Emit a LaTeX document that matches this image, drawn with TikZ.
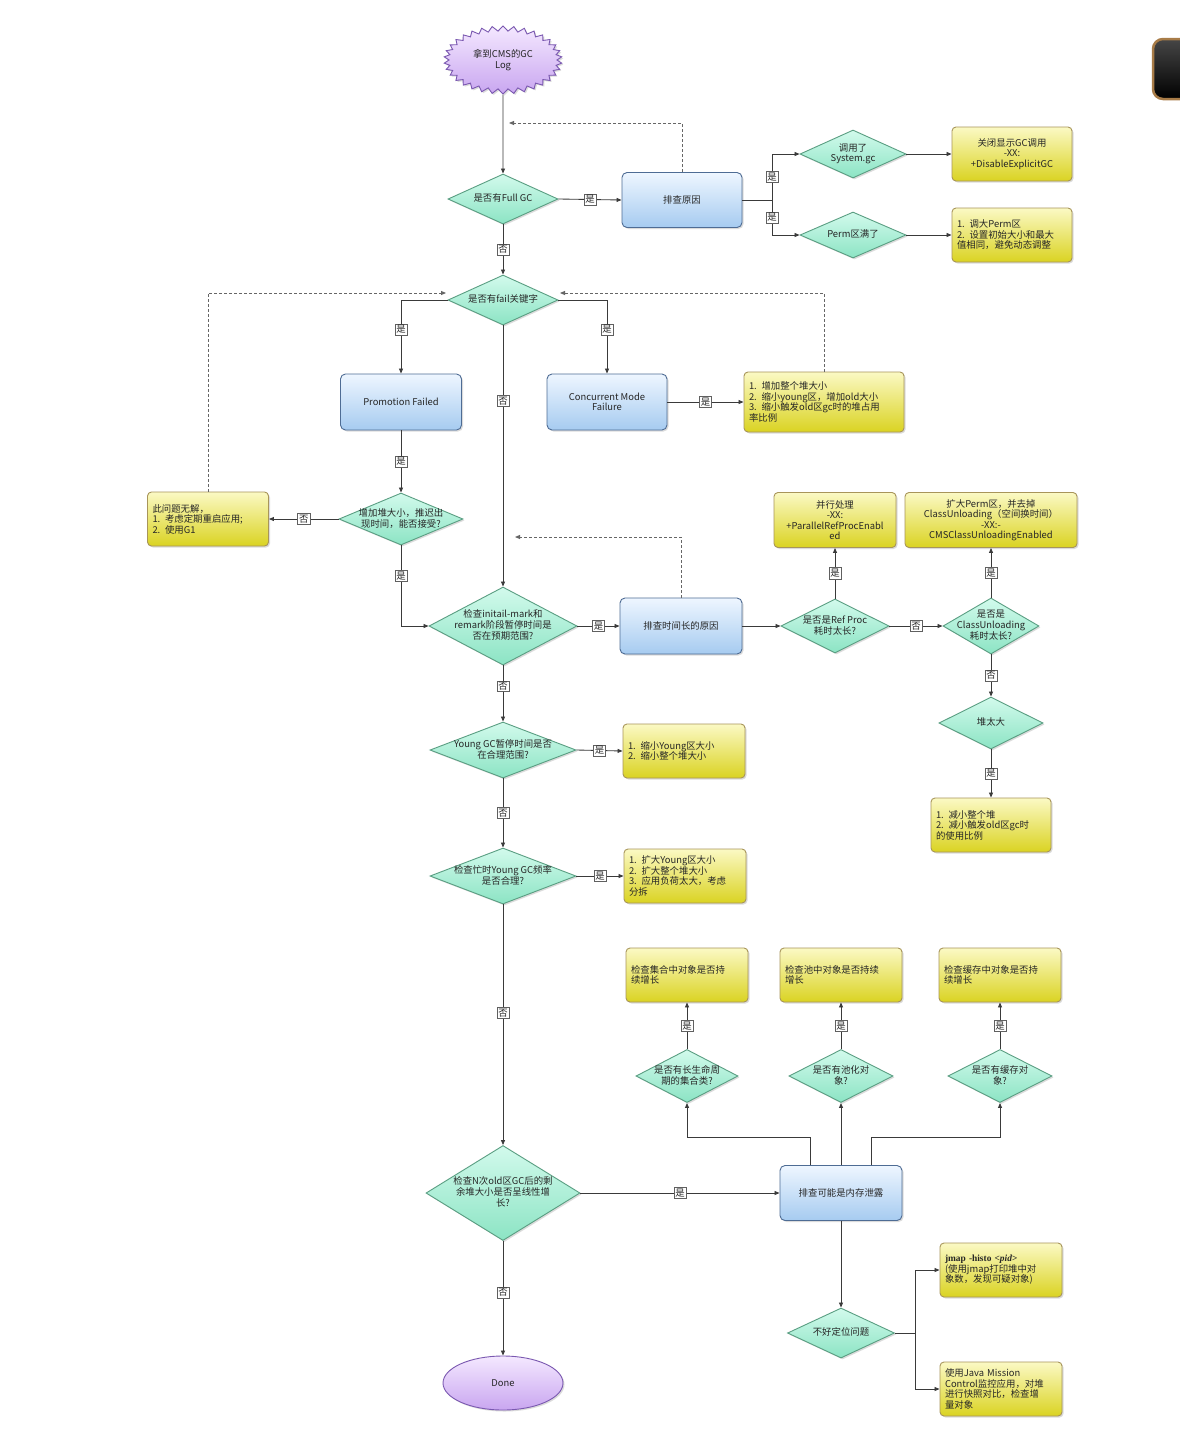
\documentclass[tikz,border=0pt]{standalone}
\usepackage{fontspec}
\setmainfont{Noto Sans CJK SC}
\newfontfamily\serifb{Liberation Serif}
\usetikzlibrary{arrows.meta,shapes.geometric,shapes.symbols,shadows,calc}
\definecolor{gtop}{HTML}{D2FAEC}
\definecolor{gbot}{HTML}{8CE4C4}
\definecolor{gborder}{HTML}{5A9E82}
\definecolor{btop}{HTML}{EEF6FF}
\definecolor{bbot}{HTML}{A6CBF0}
\definecolor{bborder}{HTML}{4E6C94}
\definecolor{ytop}{HTML}{FBF9C4}
\definecolor{ybot}{HTML}{DAD322}
\definecolor{yborder}{HTML}{A8955A}
\definecolor{ptop}{HTML}{F4E8FF}
\definecolor{pbot}{HTML}{C9A6F0}
\definecolor{pborder}{HTML}{7A58B0}
\definecolor{lcol}{HTML}{3A3A3A}
\definecolor{brownrim}{HTML}{A87C48}
\newcommand\fs{\fontsize{9.4}{10.5}\selectfont}
\newcommand\dt[1]{\raisebox{-5.3pt}{\smash{\makebox[0pt]{\begin{tabular}{@{}c@{}}#1\end{tabular}}}}}
\begin{document}
\begin{tikzpicture}[x=1pt,y=-1pt,
  every node/.style={font=\fs, text=black!85},
  shad/.style={drop shadow={shadow xshift=1.5pt,shadow yshift=-1.5pt,opacity=0.28}},
  dia/.style={diamond, draw=gborder, line width=0.9pt, top color=gtop, bottom color=gbot, inner sep=0pt, shad},
  bbox/.style={rectangle, rounded corners=5pt, draw=bborder, line width=0.9pt, top color=btop, bottom color=bbot, align=center, shad},
  ybox/.style={rectangle, rounded corners=4pt, draw=yborder, line width=0.9pt, top color=ytop, bottom color=ybot, shad, inner xsep=5pt},
  ylbox/.style={ybox, align=left, text width=110pt, minimum height=54pt},
  lbl/.style={draw=gray!75!black, fill=white, inner sep=1.4pt, line width=0.5pt, font=\fs},
  conn/.style={draw=lcol, line width=0.85pt},
  arr/.style={conn, -{Triangle[length=5pt,width=4pt]}},
  dashedarr/.style={arr, draw=gray!80!black, dashed, dash pattern=on 3pt off 2pt}]
\clip (0,0) rectangle (1180,1435);
\fill[white] (0,0) rectangle (1180,1435);
% top-right decoration
\draw[line width=2.5pt, draw=brownrim, top color=gray!55!black, bottom color=black, rounded corners=10pt] (1153,39) rectangle (1225,99);

% nodes
\node[starburst, starburst points=34, starburst point height=5pt, random starburst=0, draw=pborder, line width=0.9pt, top color=ptop, bottom color=pbot, minimum width=118pt, minimum height=68pt, align=center, inner sep=0pt, shad] (start) at (503,60) {拿到CMS的GC\\Log};
\node[dia, minimum width=110pt, minimum height=50pt] (d1) at (503,199) {\dt{是否有Full GC}};
\node[bbox, minimum width=120pt, minimum height=55pt] (box1) at (682,200) {排查原因};
\node[dia, minimum width=106pt, minimum height=48pt] (dsys) at (853,154) {\dt{调用了\\System.gc}};
\node[dia, minimum width=106pt, minimum height=46pt] (dperm) at (853,235) {\dt{Perm区满了}};
\node[ybox, minimum width=120pt, minimum height=54pt, align=center] (ysys) at (1012,154) {关闭显示GC调用\\-XX:\\+DisableExplicitGC};
\node[ylbox] (yperm) at (1012,235) {1. 调大Perm区\\2. 设置初始大小和最大\\值相同，避免动态调整};
\node[dia, minimum width=110pt, minimum height=50pt] (d2) at (503,300) {\dt{是否有fail关键字}};
\node[bbox, minimum width=121pt, minimum height=56pt] (pf) at (401,402) {Promotion Failed};
\node[bbox, minimum width=120pt, minimum height=56pt] (cmf) at (607,402) {Concurrent Mode\\Failure};
\node[ylbox, text width=150pt, minimum height=60pt] (ycmf) at (824,402) {1. 增加整个堆大小\\2. 缩小young区，增加old大小\\3. 缩小触发old区gc时的堆占用\\率比例};
\node[dia, minimum width=124pt, minimum height=52pt] (dinc) at (401,519) {\dt{增加堆大小，推迟出\\现时间，能否接受?}};
\node[ylbox, text width=111pt] (ynone) at (208,519) {此问题无解，\\1. 考虑定期重启应用;\\2. 使用G1};
\node[dia, minimum width=148pt, minimum height=78pt] (dremark) at (503,626) {\dt{检查initail-mark和\\remark阶段暂停时间是\\否在预期范围?}};
\node[bbox, minimum width=122pt, minimum height=56pt] (box2) at (681,626) {排查时间长的原因};
\node[dia, minimum width=108pt, minimum height=54pt] (dref) at (835,626) {\dt{是否是Ref Proc\\耗时太长?}};
\node[ybox, minimum width=122pt, minimum height=55pt, align=center] (yref) at (835,520) {并行处理\\-XX:\\+ParallelRefProcEnabl\\ed};
\node[dia, minimum width=96pt, minimum height=56pt] (dcu) at (991,626) {\dt{是否是\\ClassUnloading\\耗时太长?}};
\node[ybox, minimum width=172pt, minimum height=55pt, align=center] (ycu) at (991,520) {扩大Perm区，并去掉\\ClassUnloading（空间换时间）\\-XX:-\\CMSClassUnloadingEnabled};
\node[dia, minimum width=104pt, minimum height=52pt] (dheap) at (991,723) {\dt{堆太大}};
\node[ylbox] (yheap) at (991,825) {1. 减小整个堆\\2. 减小触发old区gc时\\的使用比例};
\node[dia, minimum width=146pt, minimum height=56pt] (dyoung) at (503,750) {\dt{Young GC暂停时间是否\\在合理范围?}};
\node[ylbox, text width=112pt] (yyoung) at (684,751) {1. 缩小Young区大小\\2. 缩小整个堆大小};
\node[dia, minimum width=146pt, minimum height=56pt] (dfreq) at (503,876) {\dt{检查忙时Young GC频率\\是否合理?}};
\node[ylbox, text width=112pt] (yfreq) at (685,876) {1. 扩大Young区大小\\2. 扩大整个堆大小\\3. 应用负荷太大，考虑\\分拆};
\node[dia, minimum width=154pt, minimum height=95pt] (dold) at (503,1193) {\dt{检查N次old区GC后的剩\\余堆大小是否呈线性增\\长?}};
\node[ellipse, draw=pborder, line width=0.9pt, top color=ptop, bottom color=pbot, minimum width=120pt, minimum height=54pt, shad] (done) at (503,1383) {Done};
\node[bbox, minimum width=122pt, minimum height=55pt] (leak) at (841,1193) {排查可能是内存泄露};
\node[dia, minimum width=102pt, minimum height=53pt] (dcoll) at (687,1076) {\dt{是否有长生命周\\期的集合类?}};
\node[dia, minimum width=104pt, minimum height=53pt] (dpool) at (841,1076) {\dt{是否有池化对\\象?}};
\node[dia, minimum width=104pt, minimum height=53pt] (dcache) at (1000,1076) {\dt{是否有缓存对\\象?}};
\node[ylbox, text width=112pt] (ycoll) at (687,975) {检查集合中对象是否持\\续增长};
\node[ylbox, text width=112pt] (ypool) at (841,975) {检查池中对象是否持续\\增长};
\node[ylbox, text width=112pt] (ycache) at (1000,975) {检查缓存中对象是否持\\续增长};
\node[dia, minimum width=107pt, minimum height=50pt] (dhard) at (841,1333) {\dt{不好定位问题}};
\node[ylbox, text width=112pt] (yjmap) at (1001,1270) {{\serifb\bfseries jmap -histo \textit{<pid>}}\\(使用jmap打印堆中对\\象数，发现可疑对象)};
\node[ylbox, text width=112pt] (yjmc) at (1001,1389) {使用Java Mission\\Control监控应用，对堆\\进行快照对比，检查增\\量对象};

% helper coordinates
\coordinate (j1) at (509,123);
\coordinate (b1r) at (772,200);
\coordinate (j2) at (560,293);
\coordinate (j3) at (446,293);
\coordinate (j4) at (515,537);
\coordinate (hr) at (915,1333);

% connectors
\draw[arr] (start.south) -- (d1.north);
\draw[dashedarr] (box1.north) |- (j1);
\draw[arr] (d1.east) -- node[lbl]{是} (box1.west);
\draw[conn] (box1.east) -- (b1r);
\draw[arr] (b1r) |- node[lbl,pos=0.25]{是} (dsys.west);
\draw[arr] (b1r) |- node[lbl,pos=0.25]{是} (dperm.west);
\draw[arr] (dsys.east) -- (ysys.west);
\draw[arr] (dperm.east) -- (yperm.west);
\draw[arr] (d1.south) -- node[lbl]{否} (d2.north);
\draw[arr] (d2.west) -| node[lbl,pos=0.7]{是} (pf.north);
\draw[arr] (d2.east) -| node[lbl,pos=0.7]{是} (cmf.north);
\draw[arr] (d2.south) -- node[lbl,pos=0.29]{否} (dremark.north);
\draw[arr] (cmf.east) -- node[lbl]{是} (ycmf.west);
\draw[dashedarr] (ycmf.north) |- (j2);
\draw[dashedarr] (ynone.north) |- (j3);
\draw[arr] (pf.south) -- node[lbl]{是} (dinc.north);
\draw[arr] (dinc.west) -- node[lbl]{否} (ynone.east);
\draw[arr] (dinc.south) |- node[lbl,pos=0.19]{是} (dremark.west);
\draw[arr] (dremark.east) -- node[lbl]{是} (box2.west);
\draw[dashedarr] (box2.north) |- (j4);
\draw[arr] (box2.east) -- (dref.west);
\draw[arr] (dref.north) -- node[lbl]{是} (yref.south);
\draw[arr] (dref.east) -- node[lbl]{否} (dcu.west);
\draw[arr] (dcu.north) -- node[lbl]{是} (ycu.south);
\draw[arr] (dcu.south) -- node[lbl]{否} (dheap.north);
\draw[arr] (dheap.south) -- node[lbl]{是} (yheap.north);
\draw[arr] (dremark.south) -- node[lbl,pos=0.37]{否} (dyoung.north);
\draw[arr] (dyoung.east) -- node[lbl]{是} (yyoung.west);
\draw[arr] (dyoung.south) -- node[lbl]{否} (dfreq.north);
\draw[arr] (dfreq.east) -- node[lbl]{是} (yfreq.west);
\draw[arr] (dfreq.south) -- node[lbl,pos=0.45]{否} (dold.north);
\draw[arr] (dold.south) -- node[lbl,pos=0.45]{否} (done.north);
\draw[arr] (dold.east) -- node[lbl]{是} (leak.west);
\draw[arr] ([xshift=-31pt]leak.north) -- ++(0,-28) -| (dcoll.south);
\draw[arr] (leak.north) -- (dpool.south);
\draw[arr] ([xshift=30pt]leak.north) -- ++(0,-28) -| (dcache.south);
\draw[arr] (dcoll.north) -- node[lbl]{是} (ycoll.south);
\draw[arr] (dpool.north) -- node[lbl]{是} (ypool.south);
\draw[arr] (dcache.north) -- node[lbl]{是} (ycache.south);
\draw[arr] (leak.south) -- (dhard.north);
\draw[conn] (dhard.east) -- (hr);
\draw[arr] (hr) |- (yjmap.west);
\draw[arr] (hr) |- (yjmc.west);
\end{tikzpicture}
\end{document}
